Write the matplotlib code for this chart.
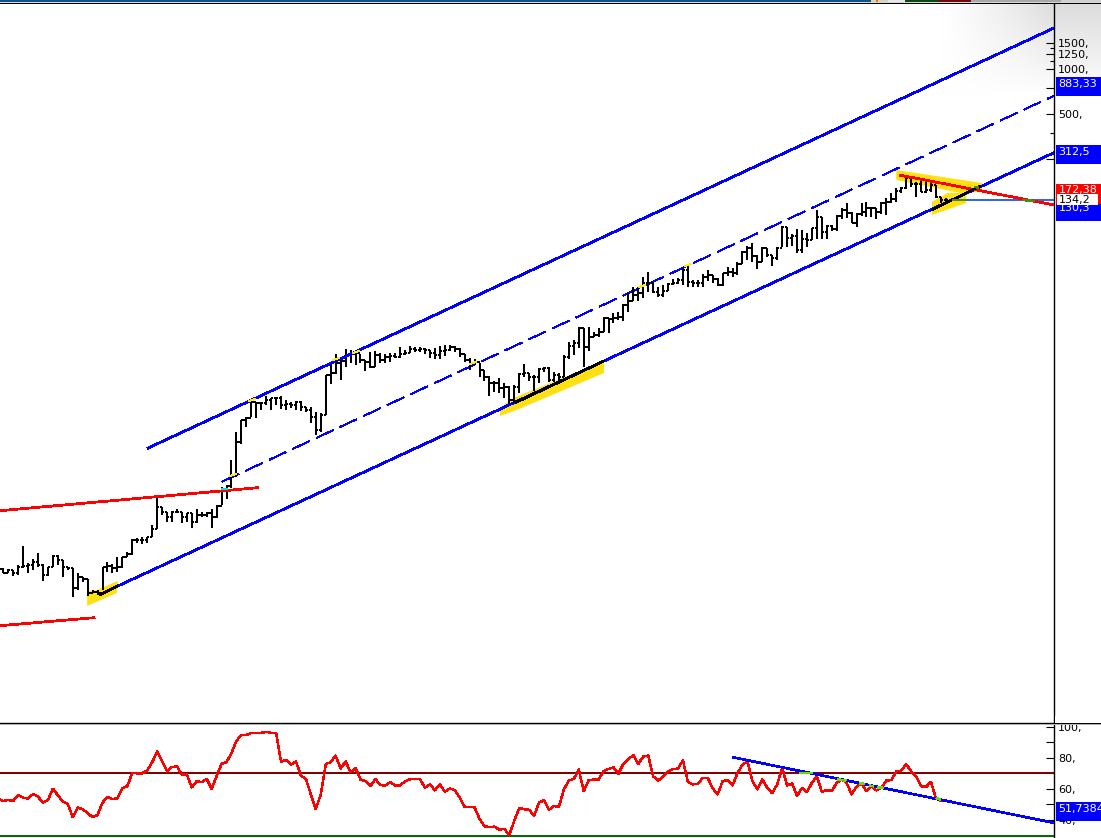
import numpy as np
import matplotlib
matplotlib.use("Agg")
import matplotlib.pyplot as plt
from matplotlib.collections import LineCollection
from matplotlib.patches import Rectangle
from matplotlib.ticker import NullFormatter

W, H = 1101, 838

# Price readings in log points: 150 points = one decade, price = 10 ** (lp / 150)
high_lp = [-49,-49,-50,-51,-46,-27,-44,-40,-34,-45,-48,-36,-36,-41,-48,-49,-54,-58,-60,-71,-71,-48,-43,-45,-38,-38,-33,-20,-19,-18,-18,-6,22,12,7,8,10,7,6,6,10,7,7,10,14,32,34,
 59,87,99,102,119,117,117,123,121,122,123,119,117,118,118,112,112,107,106,144,156,165,160,170,169,168,165,159,167,168,166,165,166,166,172,169,173,172,172,171,169,171,173,174,174,173,171,165,161,160,
 156,149,143,138,141,136,133,134,146,155,146,144,151,152,152,147,146,164,177,179,192,191,192,187,191,202,201,206,207,215,226,232,232,242,247,237,232,234,236,240,241,251,254,239,239,245,249,244,241,246,
 252,251,257,268,273,276,264,272,271,264,272,293,292,285,290,289,286,291,309,302,294,294,304,311,316,307,306,316,317,312,311,317,321,326,331,332,343,341,337,339,338,337,334,322,321]
low_lp = [-53,-54,-54,-57,-56,-49,-54,-51,-48,-62,-57,-48,-46,-58,-51,-78,-71,-63,-77,-74,-76,-71,-53,-54,-53,-49,-38,-36,-24,-25,-24,-18,-10,4,-3,-3,6,-4,-3,-9,-4,2,2,-9,1,14,20,
 31,42,75,92,102,101,109,114,109,114,110,109,111,109,108,107,96,84,87,104,135,145,139,152,156,154,156,148,151,152,156,156,157,161,161,164,166,167,167,165,161,160,160,163,168,167,162,157,149,154,
 142,138,123,127,126,121,115,116,126,142,138,128,136,147,137,137,138,142,160,164,171,152,168,182,182,187,186,196,199,198,207,218,218,221,227,226,222,222,228,234,235,234,232,232,232,232,238,236,233,233,
 243,242,244,255,259,257,250,257,262,253,259,272,272,273,266,266,272,279,280,280,280,288,288,300,301,296,292,303,302,302,300,305,304,316,317,326,330,332,322,327,326,327,321,316,316]
close_lp = [-50,-54,-51,-54,-48,-47,-46,-43,-46,-56,-48,-37,-41,-48,-49,-69,-58,-60,-74,-73,-74,-48,-47,-49,-48,-38,-35,-21,-21,-21,-18,-10,12,7,2,7,7,2,6,-3,4,4,6,2,13,29,33,
 44,77,99,101,117,116,116,119,121,121,114,115,114,117,112,109,102,89,104,144,146,156,158,164,165,166,159,157,152,164,159,162,163,162,165,166,170,169,170,169,166,164,168,169,172,170,165,159,156,157,
 149,142,136,136,131,132,119,132,145,146,142,142,150,151,139,144,142,162,173,176,191,172,182,184,187,201,200,201,202,214,218,224,226,236,236,227,224,228,235,236,239,249,237,236,236,242,244,240,234,246,
 247,246,255,267,271,263,257,271,264,261,271,292,281,283,269,280,279,291,302,287,293,290,303,309,306,296,305,307,311,311,307,316,317,320,328,331,341,335,335,327,329,334,322,319,319]

rsi = [53.4,52.3,52.9,52.3,55.9,54.4,53.8,56.7,55,51.2,52.9,60.1,55.9,51.9,50.4,41.8,48.1,47,44.5,41.8,43.2,51.2,54.8,53.4,54,60.3,61.8,70.2,70,70,71.9,77,84,77.6,71.3,74,74.5,69.2,69.2,61,65,64.3,66.4,60.1,68.1,76.1,77.2,82.9,90.9,94.5,94.7,95.8,95.8,96,96.6,96,96,77.2,78.7,75.5,77.6,68.6,66.4,56.5,47,56.5,75.9,77.2,81.4,73,77.6,70.7,73.4,66,65,61.8,
 66.4,62.4,62.2,64.3,62.2,62.2,65,66.2,66.2,66.2,60.7,62.9,59.1,62.9,58.2,60.3,59.3,54.4,48.5,48.5,48.1,40.7,36.1,35.4,35.8,33.9,34.4,30.3,39.6,47.7,47,46.6,42.8,
 51.2,52.7,46.6,49.1,48.5,59.7,65.4,66.4,72.4,58.6,65.6,66,66,71.3,72.8,73.8,69.8,76.1,79.1,81.6,76.1,80.8,81.4,68.1,65.4,67.7,71.3,72.8,73,78.3,64.5,62.9,63.3,67.1,67.1,60.3,56.5,65,65.6,62.2,70.2,
 75.5,77.6,65,59.7,66,60.7,57.2,62.9,73.4,62.2,63.5,55.5,60.7,58,63.9,68.1,58,59.3,58.6,63.9,66,63.9,56.5,61.4,63.5,58.6,61.8,59.1,60.7,65.4,65.6,71.3,71.7,75.9,71.3,68.1,61.8,61.2,64.5,53.8,52.3,52.3]

# Trend lines: ((bar, log points), (bar, log points))
channel_upper = ((30.2, 71), (212.8, 491))
channel_middle = ((45.1, 37.3), (212.8, 423.3))
channel_lower = ((24.1, -67), (212.8, 366.3))
support_segments = [((20.3, -76), (24.1, -67)), ((104.2, 116.3), (122.1, 158)), ((188.2, 309), (197.9, 333))]
resistance_upper = ((0.3, 8.3), (52.3, 31.3))
resistance_lower = ((0.3, -106.7), (19.3, -98.7))
falling_line = ((181.9, 343.7), (212.8, 314))
flat_line = ((192.3, 319.3), (212.8, 319.3))
highlight_zones = [
    [(17.9, -72), (17.9, -87), (23.9, -74), (24.1, -62), (19.9, -71)],
    [(101.1, 111), (101.1, 103), (104, 108), (122.1, 146), (122.1, 158), (103.8, 121)],
    [(181, 349), (198.3, 336), (198.3, 327), (193.9, 326), (181, 339)],
    [(188.2, 317), (188.2, 304), (195.1, 316), (195.1, 326), (191.3, 326)],
]
# Small marks where a bar or line touches a trend line: (bar, log points)
yellow_touches = [(47.3, 44), (68.1, 160), (72.1, 167), (95.7, 156), (51.1, 119), (129.8, 233), (139, 254)]
cyan_touch = ((45.1, 29.5), (46.1, 29.5))
green_touches = [((206.6, 319), (208.8, 318)), ((192.5, 319.3), (195.1, 319.3)), ((197, 332), (197.5, 331.5))]
rsi_touches = [((161.6, 70), (164.1, 70)), ((169.3, 66), (170.7, 65.5)), ((173.7, 63.5), (174.5, 63.2)),
               ((175.7, 62), (176.3, 61.8)), ((177.4, 61), (178.2, 60.7)), ((189.2, 54), (189.8, 53.4))]
rsi_trend = ((148.2, 80.2), (212.8, 38.2))
rsi_upper_level = 70
rsi_lower_level = 30

price_major = [250, 500, 750, 1000, 1250, 1500]
price_major_labels = ['', '500,', '', '1000,', '1250,', '1500,']
price_minor = [375, 1125, 1375]
rsi_ticks = [40, 50, 60, 70, 80, 90, 100]
rsi_tick_labels = ['40,', '', '60,', '', '80,', '', '100,']

# (text, box colour, text colour, box top, box bottom, box left, box right, text centre)
value_boxes = [
    ('883,33', '#0000ff', 'white', 77, 95.7, 1056, 1101, 83.5),
    ('312,5', '#0000ff', 'white', 145, 163.7, 1056, 1101, 151.5),
    ('172,38', '#ff0000', 'white', 184, 204, 1056, 1101, 190),
    ('130,3', '#0000ff', 'white', 204.5, 220.7, 1056, 1101, 208.5),
    ('134,2', 'white', 'black', 194, 205.5, 1057, 1098, 200),
    ('51,7384', '#0000ff', 'white', 801.7, 820.7, 1056, 1101, 808.5),
]


def price(lp):
    return 10 ** (np.asarray(lp, dtype=float) / 150.0)


def seg(line):
    return [line[0][0], line[1][0]], [float(price(line[0][1])), float(price(line[1][1]))]


plt.rcParams['font.family'] = ['DejaVu Sans']
fig = plt.figure(figsize=(W / 100, H / 100), dpi=100, facecolor='white')

# Soft window shading in the upper right corner
yy, xx = np.mgrid[0:110, 0:160]
shade = np.clip(xx / 110.0, 0, 1) ** 1.2 * np.clip(1 - yy / 95.0, 0, 1)
grey = 1 - 0.14 * shade
fig.figimage(np.dstack([grey, grey, grey]), xo=W - 160, yo=H - 110, origin='upper', zorder=-5)


def fig_rect(x0, y0, x1, y1, color, z=5):
    fig.add_artist(Rectangle((x0 / W, 1 - y1 / H), (x1 - x0) / W, (y1 - y0) / H,
                             transform=fig.transFigure, facecolor=color, edgecolor='none', zorder=z))


x_left = 0.337
x_right = 212.8

# ---------- price pane ----------
ax = fig.add_axes([0, (H - 723) / H, 1054 / W, (723 - 4) / H])
ax.patch.set_alpha(0)
ax.set_yscale('log')
ax.set_xlim(x_left, x_right)
ax.set_ylim(float(price(-204)), float(price(515)))
for s in ['left', 'top']:
    ax.spines[s].set_visible(False)
ax.spines['right'].set_linewidth(1.0)
ax.spines['bottom'].set_linewidth(1.0)
ax.set_xticks([])
ax.yaxis.tick_right()
ax.set_yticks(price_major)
ax.set_yticklabels(price_major_labels, fontsize=8, color='black')
ax.set_yticks(price_minor, minor=True)
ax.yaxis.set_minor_formatter(NullFormatter())
ax.tick_params(axis='y', which='major', direction='in', length=5.8, width=0.8, pad=3)
ax.tick_params(axis='y', which='minor', direction='in', length=3, width=0.8)

for zone in highlight_zones:
    zx, zy = zip(*zone)
    ax.fill(zx, price(zy), color='#ffe012', lw=0, zorder=1)

stem_segments, tick_segments = [], []
highs, lows, closes = price(high_lp), price(low_lp), price(close_lp)
opens = np.r_[closes[0], closes[:-1]]
for i in range(len(closes)):
    stem_segments.append([(i, lows[i]), (i, highs[i])])
    tick_segments.append([(i - 0.45, opens[i]), (i, opens[i])])
    tick_segments.append([(i, closes[i]), (i + 0.45, closes[i])])
ax.add_collection(LineCollection(stem_segments, colors='black', linewidths=1.4,
                                 antialiaseds=False, zorder=3))
ax.add_collection(LineCollection(tick_segments, colors='black', linewidths=1.2,
                                 antialiaseds=False, zorder=3))

blue = '#0000ff'
LW = 1.25
lx, ly = seg(channel_upper)
ax.plot(lx, ly, color=blue, lw=LW, aa=False, zorder=4)
lx, ly = seg(channel_lower)
ax.plot(lx, ly, color=blue, lw=LW, aa=False, zorder=2)
lx, ly = seg(channel_middle)
ax.plot(lx, ly, color=blue, lw=0.4, ls=(0, (34, 13)), aa=False, zorder=2)
for line in (resistance_upper, resistance_lower, falling_line):
    lx, ly = seg(line)
    ax.plot(lx, ly, color='#ff0000', lw=LW, aa=False, zorder=4)
lx, ly = seg(flat_line)
ax.plot(lx, ly, color='#2f66ee', lw=1.1, aa=False, zorder=2)
for line in support_segments:
    lx, ly = seg(line)
    ax.plot(lx, ly, color='black', lw=LW, aa=False, solid_capstyle='butt', zorder=5)
for i, lp in yellow_touches:
    ax.plot([i - 0.6, i + 0.6], price([lp - 1, lp + 1]), color='#ffee00', lw=0.8, aa=False, zorder=6)
lx, ly = seg(cyan_touch)
ax.plot(lx, ly, color='#00e0e0', lw=1.2, aa=False, zorder=6)
for line in green_touches:
    lx, ly = seg(line)
    ax.plot(lx, ly, color='#4a8a18', lw=1.1, aa=False, zorder=6)

# ---------- RSI pane ----------
ax2 = fig.add_axes([0, 0, 1054 / W, (H - 725) / H])
ax2.patch.set_alpha(0)
ax2.set_xlim(x_left, x_right)
ax2.set_ylim(28.5, 101)
for s in ['left', 'top', 'bottom']:
    ax2.spines[s].set_visible(False)
ax2.spines['right'].set_linewidth(1.0)
ax2.set_xticks([])
ax2.yaxis.tick_right()
ax2.set_yticks(rsi_ticks)
ax2.set_yticklabels(rsi_tick_labels, fontsize=8, color='black')
ax2.tick_params(axis='y', direction='in', length=5.8, width=0.8, pad=3)
ax2.axhline(rsi_upper_level, color='#800000', lw=1.25, aa=False, zorder=2)
ax2.axhline(rsi_lower_level, color='#007000', lw=1.25, aa=False, zorder=2)
ax2.plot(np.arange(len(rsi)), rsi, color='#ff0000', lw=1.05, aa=False, zorder=3)
ax2.plot([rsi_trend[0][0], rsi_trend[1][0]], [rsi_trend[0][1], rsi_trend[1][1]],
         color=blue, lw=1.2, aa=False, zorder=4)
for a, b in rsi_touches:
    ax2.plot([a[0], b[0]], [a[1], b[1]], color='#66e000', lw=1.2, aa=False, zorder=5)

# ---------- window furniture ----------
fig_rect(1055, 716, W, 723, 'white', z=4)
fig_rect(0, 723, W, 724, 'black', z=5)
fig_rect(0, 724, W, 725, '#b0b0b0', z=5)
fig_rect(0, 0, 871, 2, '#0b5485', z=5)
fig_rect(0, 2, W, 3, '#d8d8d8', z=5)
fig_rect(0, 3, W, 4, 'black', z=5)
fig_rect(871, 0, 888, 2, '#d8d0c0', z=5)
fig_rect(876, 0, 878, 2, '#e08000', z=5)
fig_rect(888, 0, 905, 2, '#e8e8e8', z=5)
fig_rect(905, 0, 938, 2, '#0b4a0b', z=5)
fig_rect(938, 0, 971, 2, '#6e0b0b', z=5)
fig_rect(971, 0, 1061, 2, '#a8a8a8', z=5)
fig_rect(1061, 0, W, 2, '#d0d0d0', z=5)
fig_rect(1054, 4, 1055, 723, 'black', z=5)

z = 6
for text, bg, fg, top, bottom, left, right, centre in value_boxes:
    fig_rect(left, top, right, bottom, bg, z=z)
    fig.text(1058.5 / W, 1 - centre / H, text, color=fg, fontsize=8, ha='left', va='center', zorder=z + 0.5)
    z += 1

fig.savefig('out.png', dpi=100)
